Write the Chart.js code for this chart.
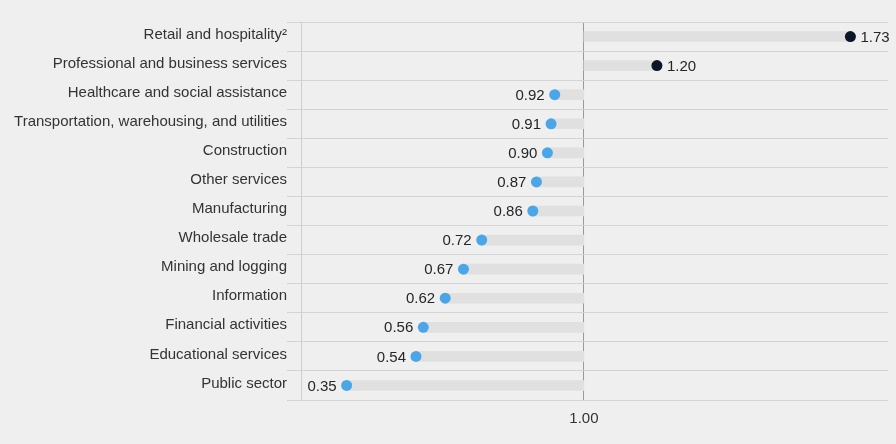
<!DOCTYPE html>
<html>
<head>
<meta charset="utf-8">
<script src="https://cdn.jsdelivr.net/npm/chart.js@4.4.1/dist/chart.umd.min.js"></script>
<style>
  html, body { margin: 0; padding: 0; background: #efefef; }
  #wrap { width: 896px; height: 444px; position: relative; }
</style>
</head>
<body>
<div id="wrap"><canvas id="c"></canvas></div>
<script>
const categories = [
  "Retail and hospitality\u00B2",
  "Professional and business services",
  "Healthcare and social assistance",
  "Transportation, warehousing, and utilities",
  "Construction",
  "Other services",
  "Manufacturing",
  "Wholesale trade",
  "Mining and logging",
  "Information",
  "Financial activities",
  "Educational services",
  "Public sector"
];
const values = [1.73, 1.20, 0.92, 0.91, 0.90, 0.87, 0.86, 0.72, 0.67, 0.62, 0.56, 0.54, 0.35];
const baseline = 1.00;
const xTickValues = [1.00];

const FONT = "'Liberation Sans', Arial, sans-serif";
const BLUE = '#4aa6e6';
const DARK = '#0b1726';

const valueLabels = {
  id: 'valueLabels',
  afterDatasetsDraw(chart) {
    const ctx = chart.ctx;
    const meta = chart.getDatasetMeta(1);
    ctx.save();
    ctx.font = '15px ' + FONT;
    ctx.fillStyle = '#262626';
    ctx.textBaseline = 'middle';
    meta.data.forEach((pt, i) => {
      const v = values[i];
      const txt = v.toFixed(2);
      if (v >= baseline) {
        ctx.textAlign = 'left';
        ctx.fillText(txt, pt.x + 10, pt.y + 1);
      } else {
        ctx.textAlign = 'right';
        ctx.fillText(txt, pt.x - 10, pt.y + 1);
      }
    });
    ctx.restore();
  }
};

new Chart(document.getElementById('c'), {
  type: 'bar',
  data: {
    labels: categories,
    datasets: [
      {
        type: 'bar',
        data: values.map(v => [baseline, v]),
        backgroundColor: '#e0e0e0',
        borderWidth: 0,
        barThickness: 10,
        order: 2
      },
      {
        type: 'line',
        data: values,
        showLine: false,
        pointRadius: 5.5,
        pointHoverRadius: 5.5,
        pointBorderWidth: 0,
        pointBackgroundColor: values.map(v => v >= baseline ? DARK : BLUE),
        order: 1
      }
    ]
  },
  options: {
    indexAxis: 'y',
    responsive: true,
    maintainAspectRatio: false,
    animation: false,
    layout: { padding: { top: 22, right: 8, left: 0, bottom: 0 } },
    plugins: { legend: { display: false }, tooltip: { enabled: false } },
    scales: {
      x: {
        type: 'linear',
        min: 0.225,
        max: 1.833,
        afterBuildTicks: (scale) => { scale.ticks = xTickValues.map(v => ({ value: v })); },
        afterFit: (scale) => { scale.height = 44; },
        border: { display: false },
        grid: { color: '#9a9a9a', lineWidth: 1, drawTicks: false },
        ticks: {
          padding: 10,
          color: '#333',
          font: { family: FONT, size: 15 },
          callback: (v) => Number(v).toFixed(2)
        }
      },
      y: {
        afterFit: (scale) => { scale.width = 301; },
        border: { display: true, color: '#cfcfcf', width: 1 },
        grid: { offset: true, color: '#d4d4d4', lineWidth: 1, tickLength: 14 },
        ticks: {
          padding: 0,
          labelOffset: -2,
          color: '#333',
          font: { family: FONT, size: 15 }
        }
      }
    }
  },
  plugins: [valueLabels]
});
</script>
</body>
</html>
